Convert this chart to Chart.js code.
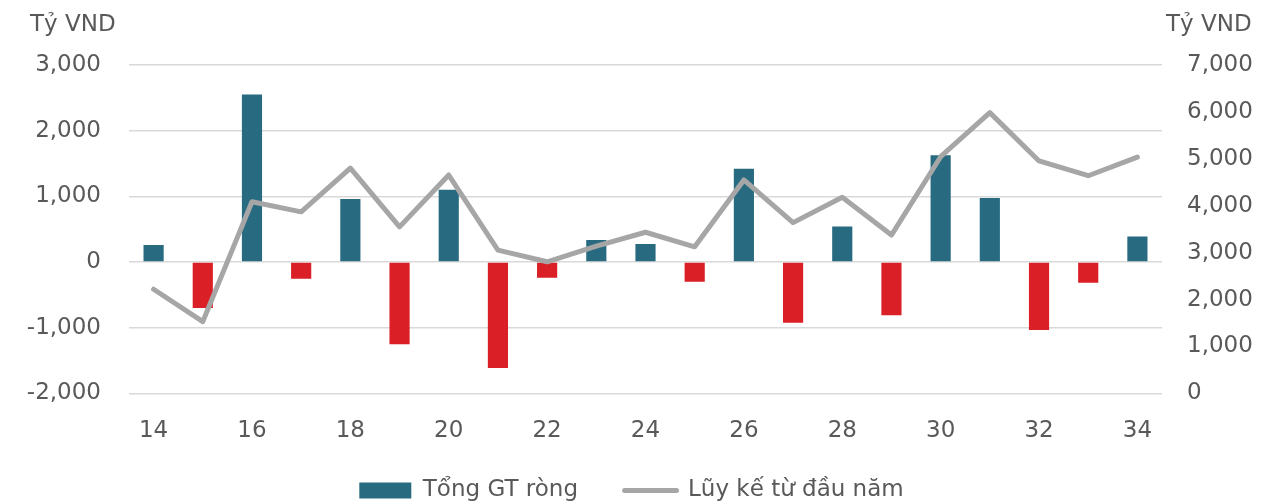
<!DOCTYPE html>
<html>
<head>
<meta charset="utf-8">
<script src="https://cdn.jsdelivr.net/npm/chart.js@4/dist/chart.umd.min.js"></script>
<style>
  html, body { margin: 0; padding: 0; background: #fff; }
  #box { width: 1263px; height: 502px; }
</style>
</head>
<body>
<div id="box"><canvas id="chart"></canvas></div>
<script>
// tuần
const weeks = ["14","15","16","17","18","19","20","21","22","23","24","25","26","27","28","29","30","31","32","33","34"];
// Tổng GT ròng (Tỷ VND)
const netValues = [260, -700, 2550, -255, 960, -1250, 1100, -1615, -240, 335, 275, -300, 1420, -925, 540, -810, 1625, 975, -1035, -315, 390];
// Lũy kế từ đầu năm (Tỷ VND)
const cumValues = [2220, 1530, 4085, 3870, 4800, 3550, 4655, 3055, 2805, 3140, 3435, 3125, 4550, 3640, 4180, 3375, 5045, 5985, 4955, 4640, 5035];

const seriesNames = ["Tổng GT ròng", "Lũy kế từ đầu năm"];
const unitLabel = "Tỷ VND";

const TEAL = "#286b81";
const RED = "#da1f26";
const GREY = "#a6a6a6";
const TEXT = "#595959";
const FONT = "'DejaVu Sans', sans-serif";

// chữ "Tỷ VND" trên đầu hai trục
const unitTitles = {
    id: "unitTitles",
    afterDraw(chart) {
        const ctx = chart.ctx;
        ctx.save();
        ctx.font = "23px " + FONT;
        ctx.fillStyle = TEXT;
        ctx.textBaseline = "middle";
        ctx.textAlign = "left";
        ctx.fillText(unitLabel, 30, 25);
        ctx.fillText(unitLabel, 1166, 25);
        ctx.restore();
    }
};

const ctx = document.getElementById("chart").getContext("2d");
const chart = new Chart(ctx, {
    data: {
        labels: weeks,
        datasets: [
            {
                type: "bar",
                label: seriesNames[0],
                data: netValues,
                backgroundColor: netValues.map(v => v >= 0 ? TEAL : RED),
                borderWidth: 0,
                barPercentage: 0.82,
                categoryPercentage: 0.5,
                yAxisID: "y",
                order: 1
            },
            {
                type: "line",
                label: seriesNames[1],
                data: cumValues,
                borderColor: GREY,
                backgroundColor: GREY,
                borderWidth: 5,
                borderJoinStyle: "round",
                borderCapStyle: "round",
                pointRadius: 0,
                tension: 0,
                yAxisID: "y1",
                order: 0
            }
        ]
    },
    options: {
        responsive: true,
        maintainAspectRatio: false,
        animation: false,
        layout: { padding: { top: 65, bottom: -10, left: 0, right: 0 } },
        plugins: {
            tooltip: { enabled: false },
            legend: {
                position: "bottom",
                labels: {
                    usePointStyle: true,
                    pointStyleWidth: 52,
                    boxHeight: 16,
                    padding: 10,
                    color: TEXT,
                    font: { family: FONT, size: 23 },
                    generateLabels(c) {
                        const items = Chart.defaults.plugins.legend.labels.generateLabels(c);
                        items.sort((a, b) => a.datasetIndex - b.datasetIndex);
                        items.forEach(it => {
                            if (it.datasetIndex === 0) {
                                it.pointStyle = "rect";
                                it.fillStyle = TEAL;
                                it.strokeStyle = TEAL;
                                it.lineWidth = 0;
                                it.text = it.text + "     "; // khoảng cách giữa hai mục
                            } else {
                                it.pointStyle = "line";
                                it.strokeStyle = GREY;
                                it.lineWidth = 5;
                                it.lineCap = "round";
                            }
                        });
                        return items;
                    }
                }
            }
        },
        scales: {
            x: {
                grid: { display: false, drawTicks: false },
                border: { display: false },
                ticks: {
                    autoSkip: false,
                    maxRotation: 0,
                    padding: 24,
                    color: TEXT,
                    font: { family: FONT, size: 23 },
                    callback: (v, i) => (i % 2 === 0 ? weeks[i] : "")
                }
            },
            y: {
                position: "left",
                min: -2000,
                max: 3000,
                afterFit: s => { s.width = 129; },
                grid: { color: "#d9d9d9", lineWidth: 1.5, drawTicks: false },
                border: { display: false },
                ticks: {
                    stepSize: 1000,
                    padding: 28,
                    color: TEXT,
                    font: { family: FONT, size: 23 },
                    callback: v => v.toLocaleString("en-US")
                }
            },
            y1: {
                position: "right",
                min: 0,
                max: 7000,
                afterFit: s => { s.width = 101; },
                grid: { display: false, drawTicks: false },
                border: { display: false },
                ticks: {
                    stepSize: 1000,
                    padding: 25,
                    color: TEXT,
                    font: { family: FONT, size: 23 },
                    callback: v => v.toLocaleString("en-US")
                }
            }
        }
    },
    plugins: [unitTitles]
});
</script>
</body>
</html>
